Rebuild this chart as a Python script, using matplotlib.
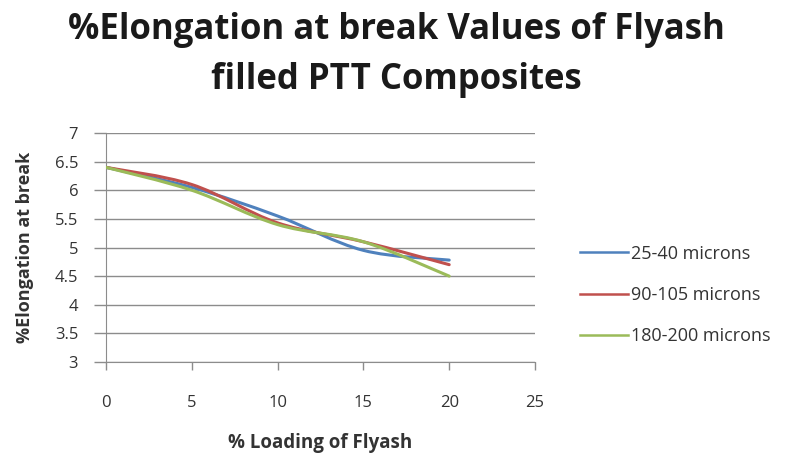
import numpy as np
import matplotlib
matplotlib.use("Agg")
import matplotlib.pyplot as plt
from matplotlib.path import Path
from matplotlib.patches import PathPatch
from matplotlib.lines import Line2D

loading = [0, 5, 10, 15, 20]
series_names = ["25-40 microns", "90-105 microns", "180-200 microns"]
elong_25_40 = [6.4, 6.05, 5.55, 4.95, 4.78]
elong_90_105 = [6.4, 6.1, 5.43, 5.1, 4.7]
elong_180_200 = [6.4, 6.0, 5.4, 5.1, 4.5]
colors = ["#4F81BD", "#C0504D", "#9BBB59"]

FONT = ["Open Sans", "DejaVu Sans"]
W, H = 793, 454


def smooth_path(xs, ys, tension=1 / 6):
    # Excel-style smoothed line: cubic Bezier through each point
    xs = np.asarray(xs, float)
    ys = np.asarray(ys, float)
    n = len(xs)
    verts = [(xs[0], ys[0])]
    codes = [Path.MOVETO]
    for i in range(n - 1):
        p0 = (xs[max(i - 1, 0)], ys[max(i - 1, 0)])
        p1 = (xs[i], ys[i])
        p2 = (xs[i + 1], ys[i + 1])
        p3 = (xs[min(i + 2, n - 1)], ys[min(i + 2, n - 1)])
        c1 = (p1[0] + (p2[0] - p0[0]) * tension, p1[1] + (p2[1] - p0[1]) * tension)
        c2 = (p2[0] - (p3[0] - p1[0]) * tension, p2[1] - (p3[1] - p1[1]) * tension)
        verts += [c1, c2, p2]
        codes += [Path.CURVE4] * 3
    return Path(verts, codes)


fig = plt.figure(figsize=(W / 100, H / 100), dpi=100)
ax = fig.add_axes([106 / W, 1 - 362 / H, 429 / W, 229 / H])

for ys, c in zip([elong_25_40, elong_90_105, elong_180_200], colors):
    ax.add_patch(PathPatch(smooth_path(loading, ys), facecolor="none",
                           edgecolor=c, lw=2.2, capstyle="round", zorder=3))

ax.set_xlim(0, 25)
ax.set_ylim(3, 7)
ax.set_xticks(np.arange(0, 26, 5))
ax.set_yticks(np.arange(3, 7.01, 0.5))
ax.set_yticklabels(["3", "3.5", "4", "4.5", "5", "5.5", "6", "6.5", "7"])
ax.yaxis.grid(True, color="#8C8C8C", lw=1.0)
ax.set_axisbelow(True)
for s in ["top", "right"]:
    ax.spines[s].set_visible(False)
for s in ["left", "bottom"]:
    ax.spines[s].set_color("#8C8C8C")
ax.tick_params(axis="both", colors="#8C8C8C", width=1, direction="out",
               labelcolor="#333333", labelsize=12)
ax.tick_params(axis="y", length=9, pad=11)
ax.tick_params(axis="x", length=6, pad=18)
for lbl in ax.get_xticklabels() + ax.get_yticklabels():
    lbl.set_family(FONT)

fig.text(0.5, 1 - 39 / H, "%Elongation at break Values of Flyash", ha="center",
         va="baseline", fontsize=25, fontweight="bold", family=FONT, color="#1a1a1a")
fig.text(0.5, 1 - 89 / H, "filled PTT Composites", ha="center",
         va="baseline", fontsize=25, fontweight="bold", family=FONT, color="#1a1a1a")
fig.text(320 / W, 1 - 443 / H, "% Loading of Flyash", ha="center", va="center",
         fontsize=13.5, fontweight="bold", family=FONT, color="#333333")
fig.text(25 / W, 1 - 247 / H, "%Elongation at break", ha="center", va="center",
         rotation=90, fontsize=13, fontweight="bold", family=FONT, color="#333333")

handles = [Line2D([], [], color=c, lw=1.8) for c in colors]
fig.legend(handles, series_names, loc="center left", bbox_to_anchor=(580 / W, 1 - 295 / H),
           frameon=False, borderpad=0, borderaxespad=0, handlelength=2.65,
           handletextpad=0.2, labelspacing=1.3, labelcolor="#333333",
           prop={"family": FONT, "size": 13})

fig.savefig("out.png", dpi=100)
